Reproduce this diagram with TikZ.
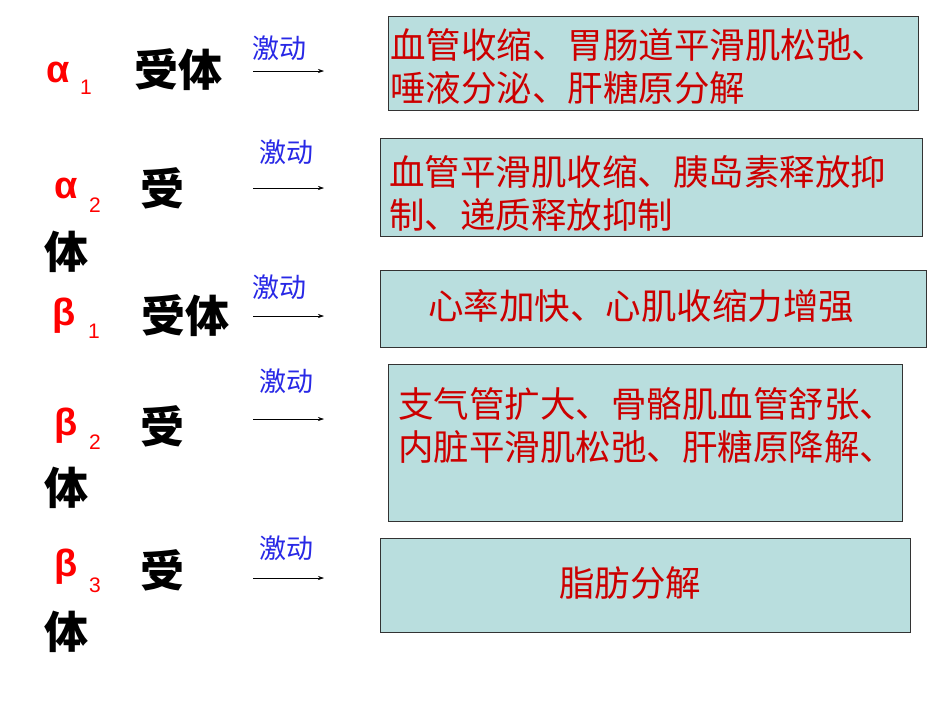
\documentclass[tikz,border=0pt]{standalone}
\usepackage{fontspec}
\newfontfamily\cjk{Noto Sans CJK SC}
\newfontfamily\lat{Liberation Sans}
\usetikzlibrary{arrows.meta}
\definecolor{boxfill}{RGB}{185,222,222}
\definecolor{txtred}{RGB}{204,0,0}
\definecolor{blu}{RGB}{40,40,230}
\begin{document}
\begin{tikzpicture}[x=1pt,y=-1pt,
  effbox/.style={draw=black!80,fill=boxfill,line width=0.8pt},
  efftxt/.style={font=\cjk\fontsize{35.5}{43}\selectfont,text=txtred,align=left,inner sep=0},
  greek/.style={font=\lat\bfseries\fontsize{38}{38}\selectfont,text=red,inner sep=0},
  subn/.style={font=\lat\fontsize{21}{21}\selectfont,text=red,inner sep=0},
  rec/.style={font=\cjk\bfseries\fontsize{44}{44}\selectfont,inner sep=0},
  act/.style={font=\cjk\fontsize{27}{27}\selectfont,text=blu,inner sep=0},
  arr/.style={-{Stealth[length=6pt,width=4pt]},line width=0.6pt}]
\useasboundingbox[fill=white] (0,0) rectangle (950,713);
% boxes
\draw[effbox] (388,16) rectangle (918,110);
\draw[effbox] (380,138) rectangle (922,236);
\draw[effbox] (380,270) rectangle (926,347);
\draw[effbox] (388,364) rectangle (902,521);
\draw[effbox] (380,538) rectangle (910,632);
\node[efftxt,anchor=west] (t1) at (390,66) {血管收缩、胃肠道平滑肌松弛、\\唾液分泌、肝糖原分解};
\node[efftxt,anchor=west] (t2) at (389,193) {血管平滑肌收缩、胰岛素释放抑\\制、递质释放抑制};
\node[efftxt] (t3) at (641,306) {心率加快、心肌收缩力增强};
\node[efftxt,anchor=west] (t4) at (398,425) {支气管扩大、骨骼肌血管舒张、\\内脏平滑肌松弛、肝糖原降解、};
\node[efftxt] (t5) at (630,583) {脂肪分解};
% receptors
\node[greek] (g1) at (58,72) {α}; \node[subn] (s1) at (86,87) {1}; \node[rec] (r1) at (178,70) {受体};
\node[greek] (g2) at (66,188) {α}; \node[subn] (s2) at (95,205) {2}; \node[rec] (r2) at (162,188) {受}; \node[rec] (r2b) at (66,252) {体};
\node[greek] (g3) at (64,316) {β}; \node[subn] (s3) at (94,331) {1}; \node[rec] (r3) at (185,316) {受体};
\node[greek] (g4) at (66,426) {β}; \node[subn] (s4) at (95,442) {2}; \node[rec] (r4) at (162,426) {受}; \node[rec] (r4b) at (66,488) {体};
\node[greek] (g5) at (66,567) {β}; \node[subn] (s5) at (95,585) {3}; \node[rec] (r5) at (162,570) {受}; \node[rec] (r5b) at (66,632) {体};
% activations
\node[act] (a1) at (279,48) {激动};
\node[act] (a2) at (286,152) {激动};
\node[act] (a3) at (279,287) {激动};
\node[act] (a4) at (286,381) {激动};
\node[act] (a5) at (286,548) {激动};
\foreach \i/\y in {1/71,2/188,3/316,4/419,5/578}{
  \coordinate (p\i) at (253,\y); \coordinate (q\i) at (324,\y);
  \draw[arr] (p\i) -- (q\i);
}
\end{tikzpicture}
\end{document}
